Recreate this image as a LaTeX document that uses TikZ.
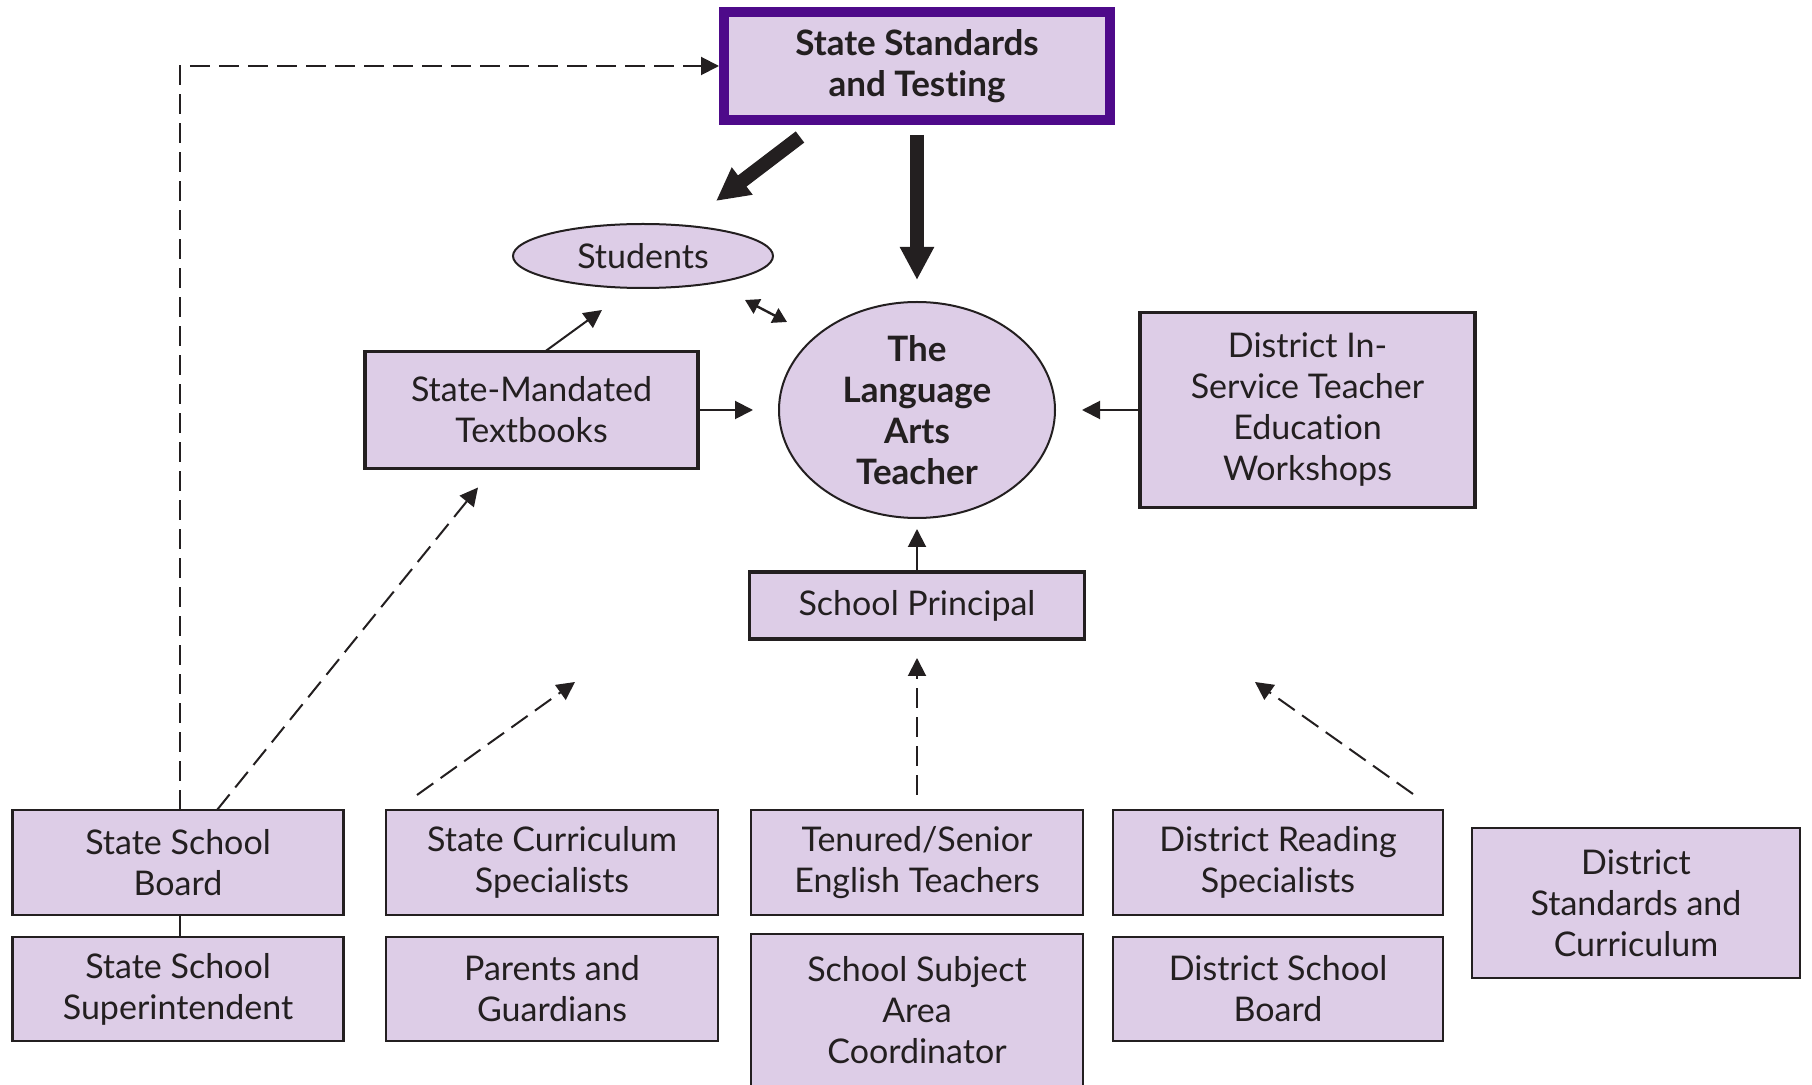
\documentclass[tikz,border=0pt]{standalone}
\usepackage{fontspec}
\setmainfont{Lato}[Ligatures=NoCommon]
\usetikzlibrary{arrows.meta,shapes.geometric}
\definecolor{boxfill}{RGB}{221,205,231}
\definecolor{ink}{RGB}{35,31,32}
\definecolor{sstborder}{RGB}{78,10,138}
\begin{document}
\begin{tikzpicture}[x=0.5pt,y=-0.5pt,
  every node/.style={outer sep=0pt, inner sep=0pt, text=ink, align=center, font=\fontsize{17}{20.5}\selectfont},
  box/.style={rectangle, draw=ink, fill=boxfill, line width=1.1pt},
  thickbox/.style={box, line width=1.8pt},
  oval/.style={ellipse, draw=ink, fill=boxfill, line width=1pt},
  conn/.style={draw=ink, line width=1pt, -{Triangle[length=9pt,width=9pt]}},
  dconn/.style={conn, dash pattern=on 10pt off 4.5pt},
  big/.style={draw=ink, line width=7pt, -{Triangle[length=16.5pt,width=16pt]}},
  boldtext/.style={font=\bfseries\fontsize{17.5}{20.5}\selectfont}
]
\useasboundingbox (0,0) rectangle (1812,1085);
\clip (0,0) rectangle (1812,1085);

% top
\node[box, line width=5pt, draw=sstborder, minimum width=193pt, minimum height=54pt, boldtext] (sst) at (917,66) {State Standards\\and Testing};
\node[oval, minimum width=130pt, minimum height=32pt] (students) at (643,256) {Students};
\node[oval, minimum width=138pt, minimum height=108pt, boldtext] (teacher) at (917,410) {The\\Language\\Arts\\Teacher};
\node[thickbox, minimum width=166.5pt, minimum height=58.5pt] (textbooks) at (531.5,410) {State-Mandated\\Textbooks};
\node[thickbox, minimum width=167.5pt, minimum height=97.5pt] (dis) at (1307.5,410) {District In-\\Service Teacher\\Education\\Workshops};
\node[thickbox, minimum width=167.5pt, minimum height=33.5pt] (principal) at (917,605.5) {School Principal};

% bottom
\node[box, minimum width=165.5pt, minimum height=52.5pt] (ssb) at (178,862.5) {State School\\Board};
\node[box, minimum width=165.5pt, minimum height=52pt] (sss) at (178,989) {State School\\Superintendent};
\node[box, minimum width=166pt, minimum height=52.5pt] (scs) at (552,862.5) {State Curriculum\\Specialists};
\node[box, minimum width=166pt, minimum height=52pt] (pg) at (552,989) {Parents and\\Guardians};
\node[box, minimum width=166pt, minimum height=52.5pt] (tes) at (917,862.5) {Tenured/Senior\\English Teachers};
\node[box, minimum width=166pt, minimum height=76pt] (ssac) at (917,1010) {School Subject\\Area\\Coordinator};
\node[box, minimum width=165pt, minimum height=52.5pt] (drs) at (1278,862.5) {District Reading\\Specialists};
\node[box, minimum width=165pt, minimum height=52pt] (dsb) at (1278,989) {District School\\Board};
\node[box, minimum width=164pt, minimum height=75pt] (dsc) at (1636,903) {District\\Standards and\\Curriculum};

\coordinate (scsTip) at (575,682);
\coordinate (drsTip) at (1255,682);

% connectors
\draw[big, shorten <=7.5pt, shorten >=11pt] (sst.south) -- (teacher.north);
\draw[big] ([shift={(-117,17)}]sst.south) -- ([shift={(73,-55)}]students.center);
\draw[conn] ([shift={(13.5,0)}]textbooks.north) -- ([shift={(-41,54)}]students.center);
\draw[conn, shorten >=13pt] (textbooks.east) -- (teacher.west);
\draw[draw=ink, line width=1.2pt, {Triangle[length=7pt,width=8pt]}-{Triangle[length=7pt,width=8pt]}] ([shift={(102,44)}]students.center) -- ([shift={(-130,-88)}]teacher.center);
\draw[conn, shorten >=13.5pt] (dis.west) -- (teacher.east);
\draw[conn, shorten >=5.5pt] (principal.north) -- (teacher.south);

\draw[dconn, shorten <=7.5pt, shorten >=9.5pt] (tes.north) -- (principal.south);
\draw[dconn] ([shift={(135,-16)}]drs.north) -- (drsTip);
\draw[dconn] ([shift={(-135,-15)}]scs.north) -- (scsTip);
\draw[dconn] ([shift={(39,0)}]ssb.north) -- ([shift={(-53.5,19)}]textbooks.south);
\draw[dconn, shorten >=2.5pt] ([xshift=1pt]ssb.north) |- (sst.west);
\draw[draw=ink, line width=1pt] ([xshift=1pt]ssb.south) -- ([xshift=1pt]sss.north);
\end{tikzpicture}
\end{document}
